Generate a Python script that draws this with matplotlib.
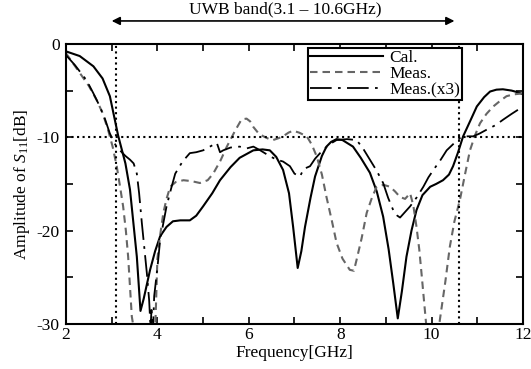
import numpy as np
import matplotlib
matplotlib.use('Agg')
import matplotlib.pyplot as plt
from matplotlib.ticker import MultipleLocator

plt.rcParams['font.family'] = 'Liberation Serif'
plt.rcParams['mathtext.fontset'] = 'custom'
plt.rcParams['mathtext.rm'] = 'Liberation Serif'
plt.rcParams['mathtext.it'] = 'Liberation Serif:italic'
plt.rcParams['axes.unicode_minus'] = False

# values
cal_f = [2.0, 2.3, 2.6, 2.8, 2.96, 3.14, 3.3, 3.4, 3.55, 3.63, 3.7, 3.84, 3.95, 4.06, 4.2, 4.34,
         4.5, 4.71, 4.85, 5.0, 5.2, 5.37, 5.6, 5.8, 6.1, 6.3, 6.46, 6.6, 6.75, 6.88, 6.97, 7.07,
         7.15, 7.23, 7.35, 7.45, 7.6, 7.7, 7.8, 7.92, 8.05, 8.28, 8.45, 8.65, 8.8, 8.94, 9.06,
         9.16, 9.26, 9.35, 9.45, 9.56, 9.67, 9.8, 9.97, 10.1, 10.25, 10.38, 10.47, 10.58, 10.69,
         10.85, 10.99, 11.15, 11.28, 11.42, 11.56, 11.75, 11.9, 12.0]
cal_s = [-0.8, -1.3, -2.4, -3.7, -5.6, -9.8, -12.8, -15.6, -22.8, -28.6, -27.3, -24.2, -22.2, -20.6,
         -19.6, -19.0, -18.9, -18.9, -18.4, -17.4, -16.0, -14.6, -13.2, -12.2, -11.4, -11.3, -11.4,
         -12.1, -13.5, -16.0, -19.6, -24.0, -22.2, -19.6, -16.5, -14.2, -12.0, -11.0, -10.5, -10.2,
         -10.3, -11.0, -12.2, -13.8, -15.8, -18.5, -22.0, -25.6, -29.4, -26.5, -22.8, -20.0, -17.8,
         -16.2, -15.3, -15.0, -14.6, -14.0, -13.1, -11.6, -9.9, -8.2, -6.7, -5.7, -5.1, -4.9,
         -4.86, -5.0, -5.2, -5.4]

meas_f = [2.0, 2.3, 2.5, 2.67, 2.8, 2.92, 3.02, 3.11, 3.18, 3.25, 3.31, 3.36, 3.44, 3.5, 3.95, 4.0,
          4.06, 4.13, 4.2, 4.28, 4.4, 4.57, 4.75, 4.93, 5.1, 5.22, 5.38, 5.52, 5.7, 5.84, 5.95, 6.03,
          6.1, 6.2, 6.32, 6.45, 6.53, 6.65, 6.75, 6.87, 6.97, 7.1, 7.27, 7.38, 7.49, 7.6, 7.7, 7.82,
          7.92, 8.05, 8.21, 8.3, 8.36, 8.47, 8.58, 8.7, 8.8, 8.95, 9.09, 9.2, 9.31, 9.42, 9.53,
          9.6, 9.67, 9.73, 9.78, 9.86, 9.9, 10.15, 10.18, 10.3, 10.4, 10.5, 10.62, 10.73, 10.84,
          10.95, 11.06, 11.2, 11.35, 11.5, 11.64, 11.8, 12.0]
meas_s = [-1.0, -3.1, -4.5, -6.0, -7.4, -9.2, -11.0, -13.1, -15.2, -17.4, -20.0, -22.8, -29.2, -31.0,
          -31.0, -23.0, -20.5, -18.1, -16.6, -15.3, -14.8, -14.6, -14.7, -14.9, -14.6, -13.9,
          -12.5, -11.0, -9.3, -8.1, -8.0, -8.3, -8.9, -9.5, -9.9, -10.2, -10.3, -10.1, -9.9, -9.5,
          -9.3, -9.5, -9.9, -10.8, -12.1, -14.0, -16.4, -19.0, -21.3, -23.0, -24.2, -24.3, -23.1,
          -20.8, -18.1, -16.4, -15.3, -15.1, -15.3, -15.8, -16.4, -16.6, -16.0, -17.3, -19.6,
          -22.0, -24.6, -28.9, -31.0, -31.0, -29.6, -25.5, -21.7, -19.0, -16.7, -14.0, -11.4,
          -9.8, -8.5, -7.5, -6.7, -6.1, -5.6, -5.4, -5.3]

x3_f = [2.0, 2.2, 2.45, 2.6, 2.74, 2.85, 2.96, 3.08, 3.18, 3.3, 3.4, 3.48, 3.55, 3.6, 3.66, 3.77,
        3.82, 3.85, 3.87, 3.9, 3.93, 4.0, 4.06, 4.2, 4.3, 4.39, 4.55, 4.71, 4.85, 5.0, 5.15, 5.3,
        5.37, 5.44, 5.6, 5.8, 5.95, 6.1, 6.25, 6.45, 6.61, 6.75, 6.9, 7.0, 7.12, 7.2, 7.34, 7.45,
        7.56, 7.75, 7.92, 8.15, 8.36, 8.5, 8.65, 8.8, 8.94, 9.05, 9.16, 9.25, 9.31, 9.42, 9.53,
        9.68, 9.82, 9.93, 10.04, 10.2, 10.33, 10.48, 10.62, 10.75, 10.91, 11.05, 11.2, 11.4,
        11.57, 11.75, 11.94, 12.0]
x3_s = [-1.2, -2.3, -3.9, -5.3, -6.7, -8.0, -9.6, -10.8, -11.4, -12.0, -12.4, -12.8, -13.9, -16.0,
        -19.2, -24.6, -27.5, -30.5, -28.5, -31.0, -27.0, -24.0, -21.0, -17.4, -15.5, -13.9, -12.6,
        -11.7, -11.6, -11.4, -11.0, -10.6, -11.6, -11.4, -11.1, -11.0, -11.2, -11.0, -11.4, -12.0,
        -12.4, -12.6, -13.1, -13.9, -14.2, -13.4, -13.1, -12.3, -11.7, -10.8, -10.3, -10.2, -10.3,
        -11.2, -12.4, -13.6, -14.9, -16.5, -17.8, -18.4, -18.6, -18.0, -17.4, -16.4, -15.3,
        -14.3, -13.5, -12.4, -11.4, -10.7, -10.1, -9.9, -9.9, -9.6, -9.2, -8.7, -8.1, -7.5,
        -6.9, -6.8]

band_lo = 3.1
band_hi = 10.6
band_label = 'UWB band(3.1 \u2013 10.6GHz)'

fs = 12.5

fig = plt.figure(figsize=(5.31, 3.69), dpi=100)
ax = fig.add_axes([0.1243, 0.122, 0.8606, 0.759])

ax.plot(cal_f, cal_s, color='k', lw=1.5, label='Cal.')
ax.plot(meas_f, meas_s, color='#666666', lw=1.5, ls=(0, (3.6, 2.4)), label='Meas.')
ax.plot(x3_f, x3_s, color='k', lw=1.3, ls=(0, (12, 3.5, 1.5, 3.5)), label='Meas.(x3)')

# band edges and -10 dB level
ax.axvline(band_lo, color='k', ls=':', lw=1.5)
ax.axvline(band_hi, color='k', ls=':', lw=1.5)
ax.axhline(-10, color='k', ls=':', lw=1.5)

ax.set_xlim(2, 12)
ax.set_ylim(-30, 0)
ax.xaxis.set_major_locator(MultipleLocator(2))
ax.xaxis.set_minor_locator(MultipleLocator(1))
ax.yaxis.set_major_locator(MultipleLocator(10))
ax.yaxis.set_minor_locator(MultipleLocator(5))
ax.tick_params(which='both', direction='in', top=True, right=True, width=1.2, labelsize=fs)
ax.tick_params(axis='x', pad=2.5)
ax.tick_params(axis='y', pad=4.5)
ax.tick_params(which='major', length=5)
ax.tick_params(which='minor', length=5)
for sp in ax.spines.values():
    sp.set_linewidth(1.5)

ax.set_xlabel('Frequency[GHz]', fontsize=fs, labelpad=1)
ax.set_ylabel('Amplitude of $S_{11}$[dB]', fontsize=fs, labelpad=3)

leg = ax.legend(loc='upper right', bbox_to_anchor=(0.867, 0.985), fontsize=fs, frameon=True,
                fancybox=False, edgecolor='k', framealpha=1, handlelength=4.2,
                borderpad=0.1, labelspacing=0.0, handletextpad=0.4, borderaxespad=0)
leg.get_frame().set_linewidth(1.5)

# UWB band arrow above the axes
ax.annotate('', xy=(3.0, 1.082), xytext=(10.5, 1.082),
            xycoords=('data', 'axes fraction'), textcoords=('data', 'axes fraction'),
            arrowprops=dict(arrowstyle='<|-|>', color='k', lw=1.2, mutation_scale=12,
                            shrinkA=0, shrinkB=0), annotation_clip=False)
ax.text(6.8, 1.125, band_label, transform=ax.get_xaxis_transform(), ha='center', va='center',
        fontsize=fs)

fig.savefig('out.png', dpi=100)
